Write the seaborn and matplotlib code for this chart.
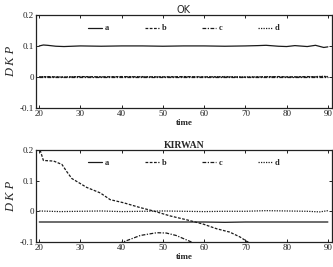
import numpy as np
import pandas as pd
import matplotlib
matplotlib.use("Agg")
import matplotlib.pyplot as plt
import seaborn as sns

# ---- data ----
series_names = ["a", "b", "c", "d"]

# OK panel
ok_t = [20, 21, 22, 24, 26, 30, 35, 40, 45, 50, 55, 60, 65, 70, 73, 75, 78, 80, 82, 85, 87, 89, 90]
ok_a = [0.100, 0.103, 0.102, 0.099, 0.098, 0.100, 0.099, 0.100, 0.100, 0.099, 0.100, 0.100, 0.099, 0.100, 0.101, 0.102, 0.099, 0.098, 0.101, 0.098, 0.102, 0.095, 0.097]
ok_b = [0.000, 0.000, 0.001, 0.000, -0.001, 0.001, 0.000, 0.001, 0.000, 0.000, 0.001, 0.000, 0.000, -0.001, 0.000, 0.000, 0.001, 0.000, 0.000, 0.001, 0.000, 0.001, 0.000]
ok_c = [0.000, 0.000, 0.000, 0.000, 0.000, 0.000, 0.000, 0.000, 0.000, 0.000, 0.000, 0.000, 0.000, 0.000, 0.000, 0.000, 0.000, 0.000, 0.000, 0.000, 0.000, 0.000, 0.000]
ok_d = [0.000, 0.001, 0.000, 0.000, 0.000, 0.001, 0.000, 0.000, 0.001, 0.000, 0.000, 0.000, 0.001, 0.000, 0.000, 0.001, 0.000, 0.000, 0.000, 0.000, 0.001, 0.002, 0.001]

# KIRWAN panel
kw_a_t = [20, 30, 40, 50, 60, 65, 70, 80, 90]
kw_a = [-0.035, -0.035, -0.035, -0.035, -0.035, -0.036, -0.035, -0.035, -0.035]

kw_b_t = [19.5, 20.2, 21, 23.5, 25.5, 26.7, 27.9, 29.9, 31.5, 34.8, 37.2, 40.4, 44.5, 47.7, 51.7, 55.8, 59.8, 63, 66.2, 68.7, 70.3, 72, 80, 90]
kw_b = [0.21, 0.200, 0.166, 0.164, 0.153, 0.129, 0.107, 0.091, 0.078, 0.060, 0.038, 0.028, 0.012, 0.001, -0.015, -0.028, -0.042, -0.057, -0.068, -0.084, -0.098, -0.11, -0.14, -0.17]

kw_c_t = [20, 30, 38, 40.4, 44.5, 48.5, 50.8, 53.2, 56.5, 60, 70, 90]
kw_c = [-0.2, -0.15, -0.11, -0.100, -0.079, -0.070, -0.071, -0.079, -0.098, -0.12, -0.16, -0.2]

kw_d_t = [20, 25, 30, 35, 40, 45, 50, 55, 60, 65, 70, 75, 80, 85, 88, 90]
kw_d = [0.001, -0.001, 0.000, 0.001, -0.001, 0.000, 0.001, 0.000, -0.001, 0.000, 0.000, 0.002, 0.001, 0.000, -0.002, 0.002]

x_ticks = [20, 30, 40, 50, 60, 70, 80, 90]
y_ticks = [-0.1, 0, 0.1, 0.2]
y_ticklabels = ["-0.1", "0", "0.1", "0.2"]

# ---- style ----
sns.set_style("ticks")
plt.rcParams["font.family"] = ["Liberation Serif", "DejaVu Serif"]
plt.rcParams["xtick.direction"] = "in"
plt.rcParams["ytick.direction"] = "in"

styles = {"a": "-", "b": (0, (2.2, 1.2)), "c": (0, (3, 1.2, 1, 1.2)), "d": (0, (1, 1))}
col = "#1a1a1a"

fig = plt.figure(figsize=(3.33, 2.67), dpi=100)
ax1 = fig.add_axes([0.108, 0.596, 0.889, 0.348])
ax2 = fig.add_axes([0.108, 0.094, 0.889, 0.344])


def long_df(pairs):
    frames = []
    for name, t, v in pairs:
        frames.append(pd.DataFrame({"time": t, "DKP": v, "series": name}))
    return pd.concat(frames, ignore_index=True)


ok_df = long_df([("a", ok_t, ok_a), ("b", ok_t, ok_b), ("c", ok_t, ok_c), ("d", ok_t, ok_d)])
kw_df = long_df([("a", kw_a_t, kw_a), ("b", kw_b_t, kw_b), ("c", kw_c_t, kw_c), ("d", kw_d_t, kw_d)])

for ax, df, title in [(ax1, ok_df, "OK"), (ax2, kw_df, "KIRWAN")]:
    for name in series_names:
        sub = df[df["series"] == name]
        sns.lineplot(data=sub, x="time", y="DKP", ax=ax, color=col, lw=0.9,
                     label=name, estimator=None, sort=False)
        ln = ax.get_lines()[-1]
        ln.set_linestyle(styles[name])
    ax.set_xlim(19.2, 91)
    ax.set_ylim(-0.1, 0.2)
    ax.set_xticks(x_ticks)
    ax.set_yticks(y_ticks)
    ax.set_yticklabels(y_ticklabels)
    ax.tick_params(axis="both", labelsize=6.5, length=2.5, width=0.7,
                   top=True, right=True, pad=1.5, colors="#222")
    for sp in ax.spines.values():
        sp.set_visible(True)
        sp.set_linewidth(0.9)
        sp.set_color("#222")
    ax.set_xlabel("time", fontsize=6.5, labelpad=1, fontweight="bold")
    ax.set_ylabel("D K P", fontsize=9, style="italic", labelpad=2)
    ax.set_title(title, fontsize=7, pad=1.5, fontweight="bold" if title == "KIRWAN" else "normal",
                 family=["DejaVu Sans"] if title == "OK" else ["Liberation Serif"])
    leg = ax.legend(loc="center", bbox_to_anchor=(0.50, 0.855), ncol=4, frameon=False,
                    fontsize=6, handlelength=1.7, handletextpad=0.3, columnspacing=4.3,
                    borderaxespad=0)
    for t in leg.get_texts():
        t.set_fontweight("bold")

fig.savefig("out.png", dpi=100)
